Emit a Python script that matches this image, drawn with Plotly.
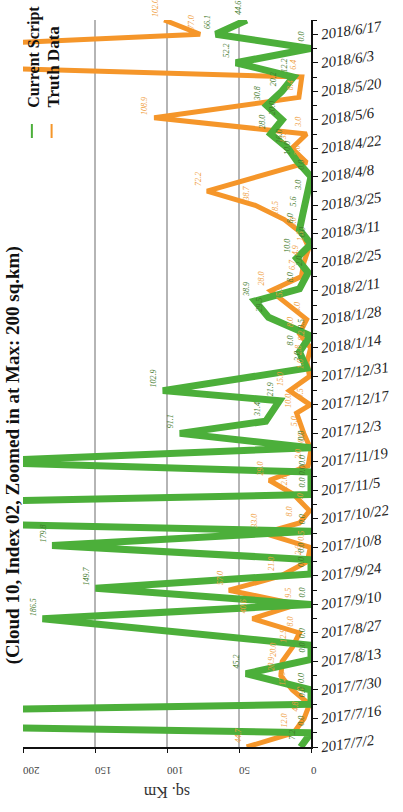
import plotly.graph_objects as go

# Current Script: detected water area per acquisition date (sq. km)
script_dates = ["2017-07-02", "2017-07-09", "2017-07-16", "2017-07-23", "2017-07-30", "2017-08-07",
                "2017-08-14", "2017-08-21", "2017-09-03", "2017-09-10", "2017-09-18", "2017-09-25",
                "2017-10-02", "2017-10-09", "2017-10-16", "2017-10-25", "2017-11-03", "2017-11-09",
                "2017-11-14", "2017-11-19", "2017-11-26", "2017-12-03", "2017-12-09", "2017-12-19",
                "2017-12-24", "2018-01-04", "2018-01-12", "2018-01-20", "2018-01-29", "2018-02-06",
                "2018-02-12", "2018-02-20", "2018-02-27", "2018-03-06", "2018-03-13", "2018-03-21",
                "2018-03-29", "2018-04-08", "2018-04-16", "2018-04-22", "2018-04-29", "2018-05-06",
                "2018-05-13", "2018-05-20", "2018-05-27", "2018-06-03", "2018-06-10", "2018-06-17",
                "2018-06-24"]
script_vals = [7.2, 0.0, 600.0, 0.0, 0.0, 45.2,
               0.0, 0.0, 186.5, 0.0, 149.7, 0.0,
               0.0, 179.8, 0.0, 600.0, 0.0, 0.0,
               0.0, 240.0, 0.0, 91.1, 31.4, 21.9,
               102.9, 3.0, 8.0, 0.5, 29.5, 38.9,
               8.0, 2.0, 10.0, 0.0, 8.0, 5.6,
               3.0, 0.0, 10.0, 16.0, 28.0, 20.0,
               30.8, 20.2, 12.2, 52.2, 0.0, 66.1,
               44.6]

# Truth Data: reference water area (sq. km)
truth_dates = ["2017-07-02", "2017-07-09", "2017-07-16", "2017-07-23", "2017-07-30", "2017-08-06",
               "2017-08-13", "2017-08-20", "2017-08-27", "2017-09-03", "2017-09-10", "2017-09-17",
               "2017-09-24", "2017-10-01", "2017-10-08", "2017-10-15", "2017-10-20", "2017-10-26",
               "2017-11-03", "2017-11-10", "2017-11-17", "2017-11-25", "2017-12-03", "2017-12-13",
               "2017-12-17", "2017-12-24", "2017-12-31", "2018-01-07", "2018-01-14", "2018-01-21",
               "2018-01-28", "2018-02-04", "2018-02-11", "2018-02-18", "2018-02-25", "2018-03-04",
               "2018-03-11", "2018-03-18", "2018-03-25", "2018-04-01", "2018-04-15", "2018-04-22",
               "2018-04-29", "2018-05-07", "2018-05-17", "2018-05-27", "2018-06-05", "2018-06-17",
               "2018-06-24"]
truth_vals = [44.7, 12.0, 4.8, 1.0, 12.9, 20.9,
              20.0, 12.9, 8.0, 40.6, 9.5, 57.0,
              21.0, 2.6, 0.5, 33.0, 8.0, 1.0,
              12.0, 29.0, 2.0, 0.0, 5.0, 10.0,
              0.5, 15.0, 1.0, 2.8, 0.2, 8.0,
              3.0, 15.9, 28.0, 6.7, 4.9, 1.5,
              6.0, 18.5, 38.7, 72.2, 3.0, 13.3,
              3.0, 108.9, 8.4, 6.4, 450.0, 77.0,
              102.0]

GREEN = "#4caf3a"
ORANGE = "#f5962a"
GREEN_TXT = "#3f7a2b"
ORANGE_TXT = "#ef9d3c"
serif = "Liberation Serif"

W, H = 403, 812
L, R, T, B = 23, 88, 20, 65
PW, PH = W - L - R, H - T - B


def px_x(x):
    return (x - L) / PW


def px_y(y):
    return (H - B - y) / PH


fig = go.Figure()
fig.add_trace(go.Scatter(x=truth_vals, y=truth_dates, mode="lines", name="Truth Data",
                         line=dict(color=ORANGE, width=5)))
fig.add_trace(go.Scatter(x=script_vals, y=script_dates, mode="lines", name="Current Script",
                         line=dict(color=GREEN, width=7)))

# value labels, set just above-left of each point
for dates, vals, col in ((truth_dates, truth_vals, ORANGE_TXT), (script_dates, script_vals, GREEN_TXT)):
    for d, v in zip(dates, vals):
        if v <= 200:
            fig.add_annotation(x=v, y=d, text=f"{v:.1f}", textangle=-90, showarrow=False,
                               xshift=-9, yshift=12,
                               font=dict(family=serif, size=8, color=col, style="italic"))

# chart title along the left edge, axis title and legend
fig.add_annotation(xref="paper", yref="paper", x=px_x(0), y=px_y(455),
                   xanchor="left", yanchor="middle",
                   text="(Cloud 10, Index 02, Zoomed in at Max: 200 sq.km)", textangle=-90,
                   showarrow=False, font=dict(family=serif, size=19, color="#111", weight="bold"))
fig.add_annotation(xref="paper", yref="paper", x=px_x(169), y=px_y(792), text="sq. Km",
                   xanchor="center", yanchor="middle",
                   textangle=180, showarrow=False, font=dict(family=serif, size=16, color="#333"))
fig.add_annotation(xref="paper", yref="paper", x=px_x(34), y=px_y(110),
                   xanchor="center", yanchor="bottom",
                   text="Current Script", textangle=-90, showarrow=False,
                   font=dict(family=serif, size=16, color="#111", weight="bold"))
fig.add_annotation(xref="paper", yref="paper", x=px_x(53), y=px_y(110),
                   xanchor="center", yanchor="bottom",
                   text="Truth Data", textangle=-90, showarrow=False,
                   font=dict(family=serif, size=17, color="#111", weight="bold"))
for xx, col in ((32, GREEN), (52, ORANGE)):
    fig.add_shape(type="line", xref="paper", yref="paper", x0=px_x(xx), x1=px_x(xx),
                  y0=px_y(124), y1=px_y(138), line=dict(color=col, width=2))

fig.update_layout(
    width=W, height=H, margin=dict(l=L, r=R, t=T, b=B),
    paper_bgcolor="white", plot_bgcolor="white", showlegend=False,
    xaxis=dict(range=[200, 0], tickvals=[0, 50, 100, 150, 200], ticks="outside", ticklen=4,
               tickcolor="#111", showline=True, linecolor="#111", linewidth=1.5,
               showgrid=True, gridcolor="#b5b5b5", gridwidth=1.5, zeroline=False,
               tickangle=180, ticklabelstandoff=12,
               tickfont=dict(family=serif, size=11, color="#444")),
    yaxis=dict(type="date", side="right", range=["2017-07-02", "2018-06-24"],
               tick0="2017-07-02", dtick=14 * 86400000, tickformat="%Y/%-m/%-d",
               ticks="outside", ticklen=5, tickcolor="#111", showline=True, linecolor="#111",
               linewidth=1.5, showgrid=False, zeroline=False, tickangle=-8,
               minor=dict(dtick=7 * 86400000, ticks="outside", ticklen=4, tickcolor="#111"),
               tickfont=dict(family=serif, size=15, color="#222", style="italic")),
)

fig.write_html("out.html")
